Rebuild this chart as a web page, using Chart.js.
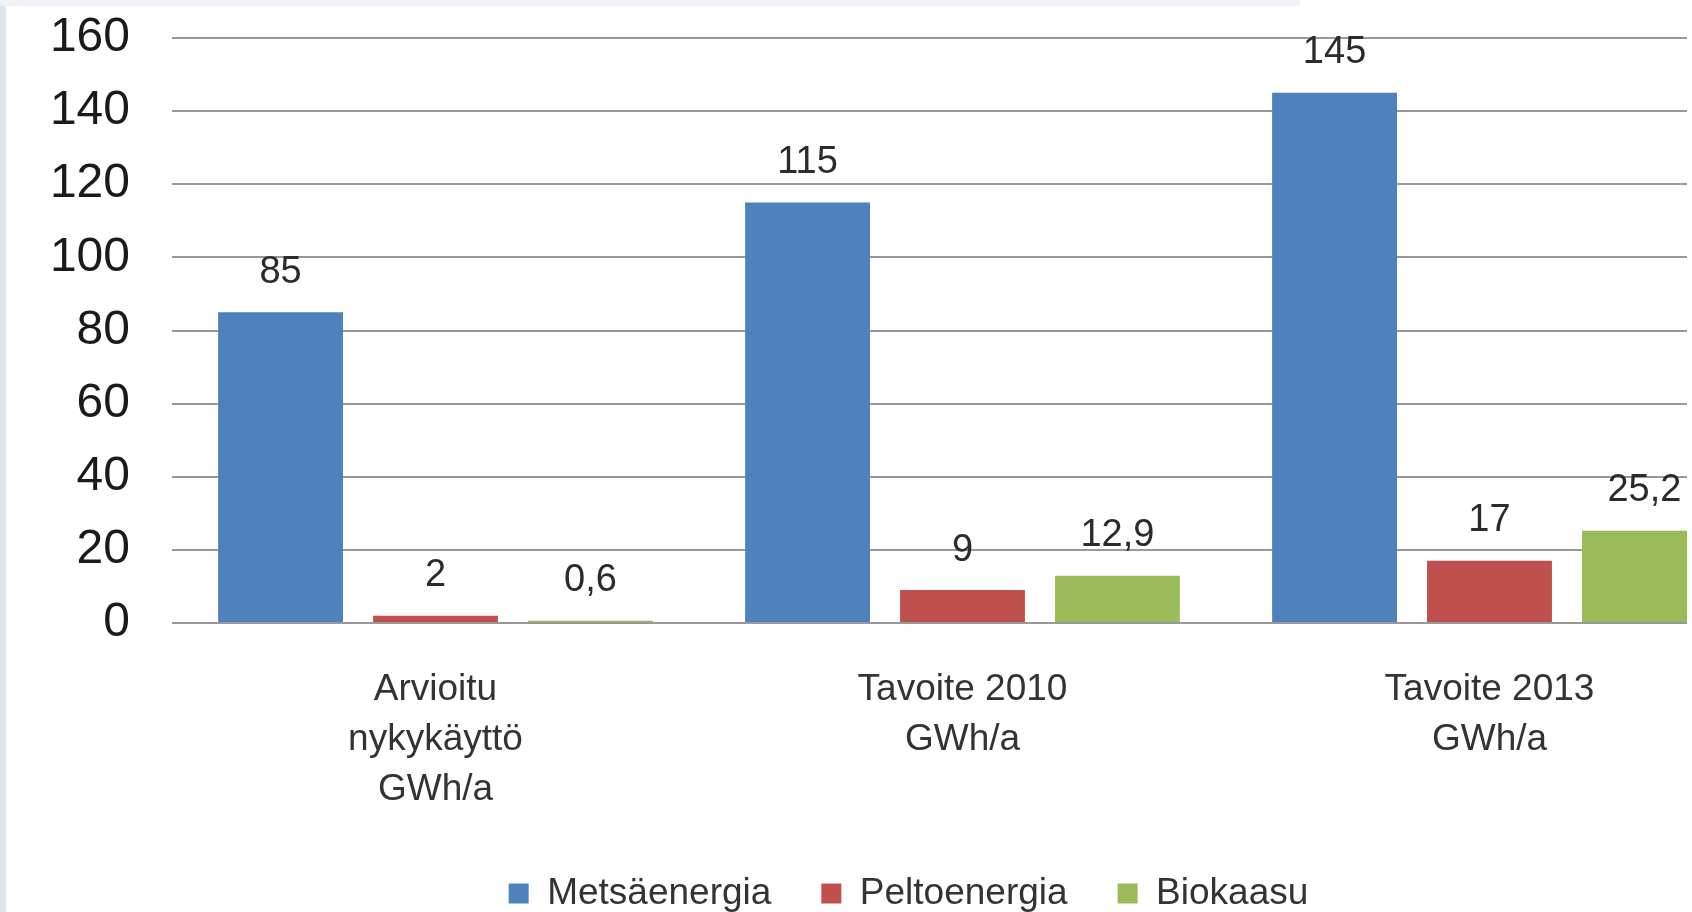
<!DOCTYPE html>
<html>
<head>
<meta charset="utf-8">
<script src="https://cdn.jsdelivr.net/npm/chart.js@4/dist/chart.umd.min.js"></script>
<style>
  body{margin:0;background:#fff;overflow:hidden;}
  #clip{position:absolute;left:0;top:0;width:1687px;height:912px;overflow:hidden;}
  #chartCanvas{position:absolute;left:0;top:0;}
  .edgeLeft{position:absolute;left:0;top:0;width:6px;height:912px;background:#dbe5ee;}
  .edgeTop{position:absolute;left:0;top:0;width:1300px;height:6px;background:#eef2f6;}
</style>
</head>
<body>
<div id="clip">
  <canvas id="chartCanvas" width="1753" height="922"></canvas>
</div>
<div class="edgeLeft"></div>
<div class="edgeTop"></div>
<script>
//data
const categories = [
    ['Arvioitu', 'nykykäyttö', 'GWh/a'],
    ['Tavoite 2010', 'GWh/a'],
    ['Tavoite 2013', 'GWh/a']
];
const seriesNames = ['Metsäenergia', 'Peltoenergia', 'Biokaasu'];
const metsaenergia = [85, 115, 145];
const peltoenergia = [2, 9, 17];
const biokaasu = [0.6, 12.9, 25.2];
const yMin = 0;
const yMax = 160;
const yStep = 20;

const colors = ['#4F81BD', '#C0504D', '#9BBB59'];
const font = '"Liberation Sans", Arial, sans-serif';

//value labels above the bars (comma as decimal mark)
const valueLabels = {
    id: 'valueLabels',
    afterLayout(chart) {
        //legend is centred a bit right of the canvas middle
        chart.legend.left += 64;
    },
    afterDatasetsDraw(chart) {
        const ctx = chart.ctx;
        ctx.save();
        ctx.font = '38px ' + font;
        ctx.fillStyle = '#2b2b2b';
        ctx.textAlign = 'center';
        ctx.textBaseline = 'middle';
        chart.data.datasets.forEach((ds, i) => {
            chart.getDatasetMeta(i).data.forEach((bar, j) => {
                ctx.fillText(String(ds.data[j]).replace('.', ','), bar.x, bar.y - 40);
            });
        });
        ctx.restore();
    }
};

const data = {
    labels: categories,
    datasets: [metsaenergia, peltoenergia, biokaasu].map((values, i) => ({
        label: seriesNames[i],
        data: values,
        backgroundColor: colors[i],
        categoryPercentage: 0.882,
        barPercentage: 0.806
    }))
};

const config = {
    type: 'bar',
    data: data,
    options: {
        responsive: false,
        animation: false,
        layout: {
            padding: 0
        },
        plugins: {
            tooltip: {enabled: false},
            legend: {
                position: 'bottom',
                labels: {
                    font: {family: font, size: 37},
                    color: '#333',
                    boxWidth: 20,
                    boxHeight: 20,
                    padding: 50
                }
            }
        },
        scales: {
            x: {
                grid: {display: false},
                border: {display: false},
                ticks: {
                    font: {family: font, size: 37, lineHeight: 50 / 37},
                    color: '#333',
                    padding: 34,
                    maxRotation: 0
                },
                afterFit: scale => { scale.height = 202; }
            },
            y: {
                min: yMin,
                max: yMax,
                border: {display: false},
                grid: {color: '#999', lineWidth: 2, drawTicks: false},
                ticks: {
                    stepSize: yStep,
                    font: {family: font, size: 48},
                    color: '#1a1a1a',
                    padding: 42
                },
                afterFit: scale => {
                    scale.width = 172;
                    scale.paddingTop = 38;
                }
            }
        }
    },
    plugins: [valueLabels]
};

const myChart = new Chart(document.getElementById('chartCanvas'), config);
</script>
</body>
</html>
